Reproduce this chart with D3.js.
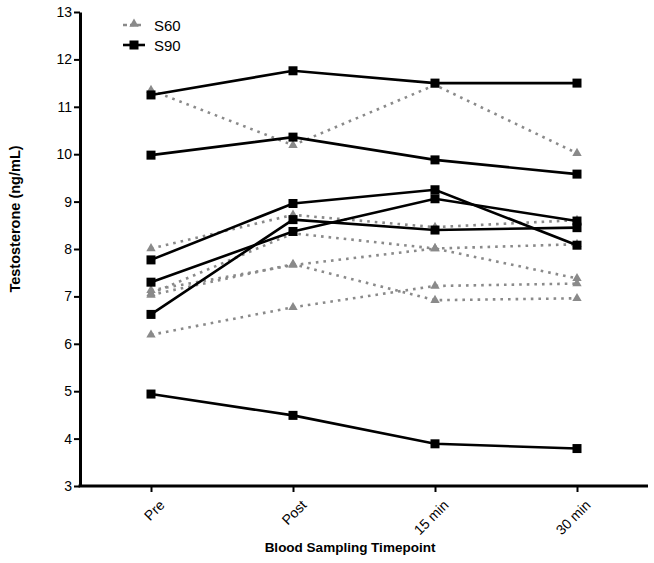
<!DOCTYPE html>
<html>
<head>
<meta charset="utf-8">
<script src="https://cdn.jsdelivr.net/npm/d3@7"></script>
<style>
html,body{margin:0;padding:0;background:#fff;}
svg{display:block;font-family:"Liberation Sans",Arial,sans-serif;}
</style>
</head>
<body>
<svg id="chart" width="654" height="563"></svg>
<script>
const categories = ["Pre", "Post", "15 min", "30 min"];
const yTicks = [3, 4, 5, 6, 7, 8, 9, 10, 11, 12, 13];

// S60 subjects (grey dotted, triangles)
const s60_1 = [11.35, 10.19, 11.46, 10.02];
const s60_2 = [8.01, 8.72, 8.46, 8.61];
const s60_3 = [7.06, 8.33, 8.01, 8.10];
const s60_4 = [7.13, 7.66, 8.01, 7.38];
const s60_5 = [7.03, 7.68, 6.92, 6.96];
const s60_6 = [6.19, 6.77, 7.22, 7.27];

// S90 subjects (black solid, squares)
const s90_1 = [11.25, 11.76, 11.50, 11.50];
const s90_2 = [9.98, 10.36, 9.88, 9.58];
const s90_3 = [7.77, 8.96, 9.25, 8.08];
const s90_4 = [7.30, 8.37, 9.06, 8.59];
const s90_5 = [6.62, 8.62, 8.40, 8.45];
const s90_6 = [4.94, 4.49, 3.89, 3.79];

const s60 = [s60_1, s60_2, s60_3, s60_4, s60_5, s60_6];
const s90 = [s90_1, s90_2, s90_3, s90_4, s90_5, s90_6];

(function () {
const svg = d3.select("#chart");
const mLeft = 80, mRight = 648, mTop = 12, mBottom = 486;

const x = d3.scalePoint().domain(categories).range([mLeft, mRight]).padding(0.5);
const y = d3.scaleLinear().domain([3, 13]).range([mBottom, mTop]);

const grey = "#8a8a8a";

// Axes
const yAxis = svg.append("g").attr("transform", `translate(${mLeft},0)`)
  .call(d3.axisLeft(y).tickValues(yTicks).tickSize(6).tickSizeOuter(0).tickPadding(2));
yAxis.select(".domain").attr("stroke", "#000").attr("stroke-width", 3);
yAxis.selectAll(".tick line").attr("stroke", "#000").attr("stroke-width", 2);
yAxis.selectAll(".tick text").attr("font-size", 14).attr("fill", "#000")
  .attr("font-family", "Liberation Sans, Arial, sans-serif");

const xAxis = svg.append("g").attr("transform", `translate(0,${mBottom})`)
  .call(d3.axisBottom(x).tickSize(6).tickSizeOuter(0).tickPadding(4));
xAxis.select(".domain").attr("stroke", "#000").attr("stroke-width", 3)
  .attr("d", `M${mLeft - 1.5},0H${mRight}`);
xAxis.selectAll(".tick line").attr("stroke", "#000").attr("stroke-width", 2);
xAxis.selectAll(".tick text").attr("font-size", 14).attr("fill", "#000")
  .attr("font-family", "Liberation Sans, Arial, sans-serif")
  .attr("text-anchor", "end")
  .attr("dy", "0.3em")
  .attr("transform", "translate(4,10) rotate(-45)");

// Axis titles
svg.append("text")
  .attr("transform", `translate(20,219) rotate(-90)`)
  .attr("text-anchor", "middle")
  .attr("font-size", 14.5).attr("font-weight", "bold")
  .text("Testosterone (ng/mL)");
svg.append("text")
  .attr("x", 350).attr("y", 552)
  .attr("text-anchor", "middle")
  .attr("font-size", 13.5).attr("font-weight", "bold")
  .text("Blood Sampling Timepoint");

const line = d3.line().x((d, i) => x(categories[i])).y(d => y(d));
const tri = d3.symbol().type(d3.symbolTriangle).size(38);

// S60 lines
const g60 = svg.append("g");
s60.forEach(s => {
  g60.append("path").datum(s).attr("d", line)
    .attr("fill", "none").attr("stroke", grey).attr("stroke-width", 2.6)
    .attr("stroke-dasharray", "2.6,5");
});
s60.forEach(s => {
  g60.selectAll(null).data(s).enter().append("path")
    .attr("d", tri)
    .attr("transform", (d, i) => `translate(${x(categories[i])},${y(d)})`)
    .attr("fill", grey);
});

// S90 lines
const g90 = svg.append("g");
s90.forEach(s => {
  g90.append("path").datum(s).attr("d", line)
    .attr("fill", "none").attr("stroke", "#000").attr("stroke-width", 2.6);
});
s90.forEach(s => {
  g90.selectAll(null).data(s).enter().append("rect")
    .attr("x", (d, i) => x(categories[i]) - 4.5)
    .attr("y", d => y(d) - 4.5)
    .attr("width", 9).attr("height", 9)
    .attr("fill", "#000");
});

// Legend
const lg = svg.append("g");
lg.append("line").attr("x1", 123).attr("x2", 144).attr("y1", 25).attr("y2", 25)
  .attr("stroke", grey).attr("stroke-width", 2.6).attr("stroke-dasharray", "4,3");
lg.append("path").attr("d", tri).attr("transform", "translate(134,24)").attr("fill", grey);
lg.append("text").attr("x", 154).attr("y", 31).attr("font-size", 15).text("S60");
lg.append("line").attr("x1", 123).attr("x2", 145).attr("y1", 45).attr("y2", 45)
  .attr("stroke", "#000").attr("stroke-width", 2.6);
lg.append("rect").attr("x", 129.5).attr("y", 40.5).attr("width", 9).attr("height", 9).attr("fill", "#000");
lg.append("text").attr("x", 154).attr("y", 51).attr("font-size", 15).text("S90");
})();
</script>
</body>
</html>
